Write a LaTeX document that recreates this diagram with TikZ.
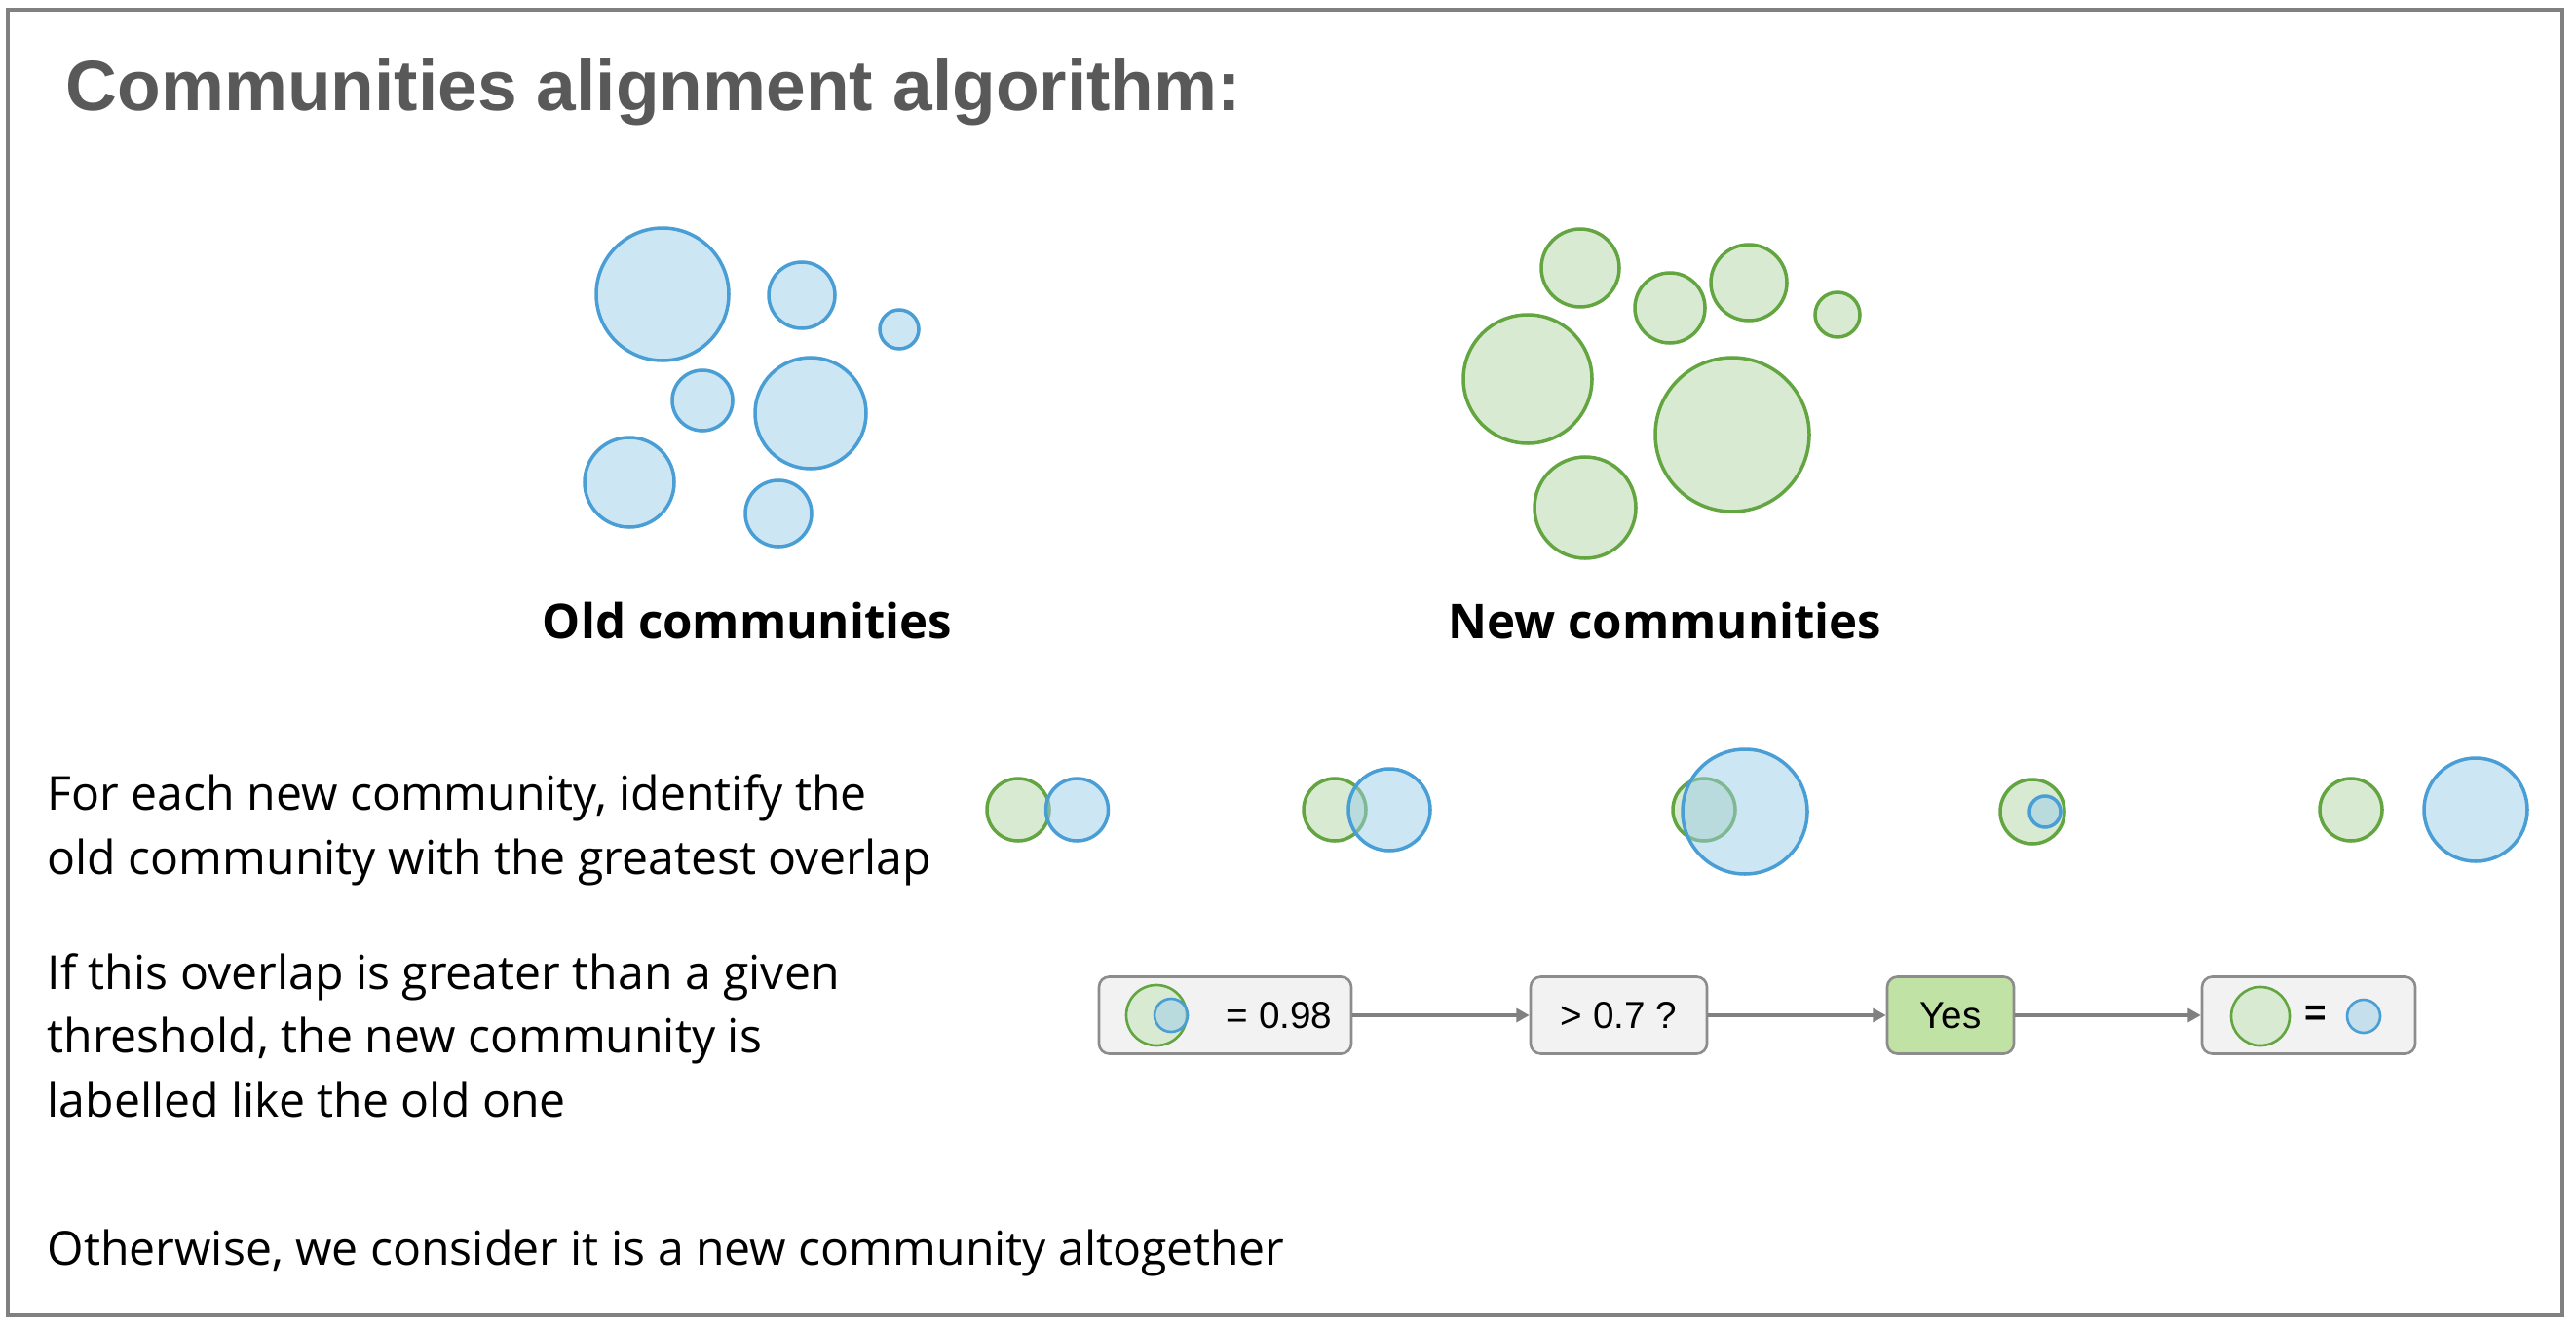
\documentclass[tikz,border=0pt]{standalone}
\usepackage{fontspec}
\setmainfont{Open Sans}
\newfontfamily\titlefont{Liberation Sans}
\usetikzlibrary{arrows.meta}

\definecolor{oldline}{HTML}{4A9ED6}
\definecolor{oldfill}{HTML}{9CCDE8}
\definecolor{newline}{HTML}{63A641}
\definecolor{newfill}{HTML}{D9EAD3}
\definecolor{titlegray}{HTML}{595959}
\definecolor{framegray}{HTML}{808080}
\definecolor{boxline}{HTML}{8C8C8C}
\definecolor{boxfill}{HTML}{F2F2F2}
\definecolor{yesfill}{HTML}{C0E2A4}

\begin{document}
\begin{tikzpicture}[
        every node/.style={inner sep=0pt},
        oldc/.style={draw=oldline, fill=oldfill, fill opacity=0.5, draw opacity=1, line width=1pt},
        newc/.style={draw=newline, fill=newfill, line width=1pt},
        steptext/.style={anchor=base west, align=left, font=\fontsize{13.7}{18.6}\selectfont},
        grouplabel/.style={anchor=base, font=\bfseries\fontsize{14}{17}\selectfont},
        box/.style={rectangle, draw=boxline, fill=boxfill, line width=0.75pt, rounded corners=3pt, minimum height=0.79cm, font=\titlefont\fontsize{11}{13}\selectfont},
        arrow/.style={-{Triangle[length=3.8pt,width=4pt]}, draw=framegray, line width=0.9pt}
    ]
        \useasboundingbox (0,0) rectangle (26.44,13.64);
        \draw[framegray, line width=0.9pt] (0.08,0.14) rectangle (26.30,13.54);

        % Title
        \node[anchor=base west, text=titlegray, font=\titlefont\bfseries\fontsize{20.8}{24}\selectfont] (title) at (0.67, 12.51) {Communities alignment algorithm:};

        % Old communities
        \draw[oldc] (6.80, 10.62) circle (0.68);
        \draw[oldc] (8.23, 10.61) circle (0.34);
        \draw[oldc] (9.23, 10.26) circle (0.20);
        \draw[oldc] (7.21, 9.53) circle (0.31);
        \draw[oldc] (8.32, 9.40) circle (0.57);
        \draw[oldc] (6.46, 8.69) circle (0.46);
        \draw[oldc] (7.99, 8.37) circle (0.34);
        \node[grouplabel] (oldlbl) at (7.67, 7.09) {Old communities};

        % New communities
        \draw[newc] (16.22, 10.89) circle (0.40);
        \draw[newc] (17.14, 10.48) circle (0.36);
        \draw[newc] (17.95, 10.74) circle (0.39);
        \draw[newc] (18.86, 10.41) circle (0.23);
        \draw[newc] (15.68, 9.75) circle (0.66);
        \draw[newc] (16.27, 8.43) circle (0.52);
        \draw[newc] (17.78, 9.18) circle (0.79);
        \node[grouplabel] (newlbl) at (17.09, 7.09) {New communities};

        % Step texts (base = last line)
        \node[steptext] (match) at (0.48, 4.67) {For each new community, identify the\\old community with the greatest overlap};
        \node[steptext] (rule) at (0.48, 2.18) {If this overlap is greater than a given\\threshold, the new community is\\labelled like the old one};
        \node[steptext] (other) at (0.48, 0.66) {Otherwise, we consider it is a new community altogether};

        % Overlap examples
        \draw[newc] (10.45, 5.33) circle (0.32);
        \draw[oldc] (11.055, 5.33) circle (0.32);
        \draw[newc] (13.70, 5.33) circle (0.32);
        \draw[oldc] (14.26, 5.33) circle (0.42);
        \draw[newc] (17.49, 5.33) circle (0.32);
        \draw[oldc] (17.91, 5.31) circle (0.64);
        \draw[newc] (20.86, 5.31) circle (0.33);
        \draw[oldc] (20.99, 5.31) circle (0.16);
        \draw[newc] (24.13, 5.33) circle (0.32);
        \draw[oldc] (25.41, 5.33) circle (0.53);

        % Decision row
        \node[box, minimum width=2.59cm] (ovl) at (12.575, 3.22) {};
        \node[box, minimum width=1.81cm] (thr) at (16.615, 3.22) {> 0.7 ?};
        \node[box, minimum width=1.30cm, fill=yesfill] (yes) at (20.02, 3.22) {Yes};
        \node[box, minimum width=2.19cm] (same) at (23.695, 3.22) {};

        \draw[newc, line width=0.75pt] (11.87, 3.22) circle (0.31);
        \draw[oldc, line width=0.75pt] (12.02, 3.22) circle (0.17);
        \node[font=\titlefont\fontsize{11}{13}\selectfont] (ovlval) at (13.13, 3.22) {= 0.98};

        \draw[newc, line width=0.75pt] (23.20, 3.21) circle (0.30);
        \node[font=\titlefont\bfseries\fontsize{11}{13}\selectfont] (eq) at (23.77, 3.22) {=};
        \draw[oldc, line width=0.75pt] (24.26, 3.21) circle (0.17);

        \draw[arrow] (ovl) -- (thr);
        \draw[arrow] (thr) -- (yes);
        \draw[arrow] (yes) -- (same);
    \end{tikzpicture}
\end{document}
